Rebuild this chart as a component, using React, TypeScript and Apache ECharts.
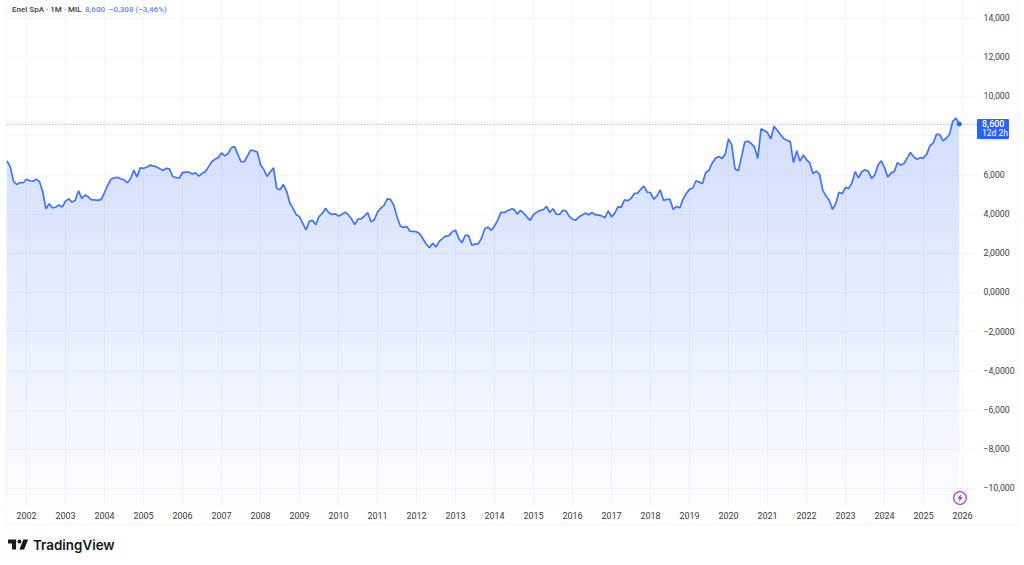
import React, { useEffect, useRef } from 'react'
import * as echarts from 'echarts'

// monthly closes, from 2001-07 to 2025-12
const closes = [
  6.72, 6.41, 5.68, 5.51, 5.61, 5.6,
  5.78, 5.7, 5.68, 5.78, 5.65, 5.14, 4.27, 4.53, 4.31, 4.36, 4.46, 4.36,
  4.66, 4.78, 4.61, 4.71, 5.19, 4.8, 4.97, 4.88, 4.73, 4.73, 4.7, 4.75,
  5.1, 5.48, 5.78, 5.85, 5.88, 5.8, 5.75, 5.6, 5.8, 6.24, 5.9, 6.36,
  6.34, 6.39, 6.5, 6.46, 6.41, 6.31, 6.24, 6.33, 6.31, 5.92, 5.87, 5.83,
  6.12, 6.14, 6.14, 6.05, 6.1, 5.94, 6.07, 6.16, 6.41, 6.67, 6.8, 6.89,
  7.12, 6.97, 7.09, 7.38, 7.45, 7.06, 6.67, 6.67, 6.97, 7.26, 7.23, 7.17,
  6.53, 6.28, 5.92, 6.16, 6.36, 5.31, 5.24, 5.51, 5.19, 4.58, 4.29, 3.97,
  3.87, 3.54, 3.19, 3.63, 3.68, 3.46, 3.87, 4.03, 4.3, 4.08, 3.98, 4.02,
  3.9, 3.98, 4.1, 3.97, 3.75, 3.47, 3.75, 3.76, 3.91, 4.07, 3.61, 3.71,
  4.1, 4.3, 4.44, 4.78, 4.75, 4.46, 3.86, 3.39, 3.32, 3.37, 3.13, 3.12,
  3.1, 3.0, 2.73, 2.47, 2.28, 2.52, 2.32, 2.61, 2.76, 2.88, 2.9, 3.1,
  3.18, 2.76, 2.54, 2.91, 2.91, 2.42, 2.47, 2.49, 2.76, 3.25, 3.34, 3.17,
  3.39, 3.69, 4.1, 4.07, 4.17, 4.25, 4.25, 4.0, 4.19, 4.05, 3.85, 3.68,
  3.98, 4.1, 4.19, 4.22, 4.39, 4.08, 4.27, 4.0, 3.98, 4.19, 4.17, 3.88,
  3.74, 3.69, 3.86, 3.95, 4.05, 3.97, 4.08, 3.97, 3.95, 3.91, 3.81, 4.17,
  3.86, 4.05, 4.37, 4.36, 4.73, 4.68, 4.8, 5.05, 5.07, 5.27, 5.43, 5.12,
  5.09, 4.76, 4.93, 5.24, 4.7, 4.75, 4.75, 4.24, 4.39, 4.32, 4.75, 5.05,
  5.26, 5.33, 5.7, 5.63, 5.56, 6.12, 6.24, 6.61, 6.85, 6.94, 6.84, 7.06,
  7.84, 7.53, 6.31, 6.21, 6.92, 7.67, 7.72, 7.6, 7.43, 6.84, 8.35, 8.26,
  8.16, 7.84, 8.48, 8.28, 8.06, 7.84, 7.77, 7.7, 6.63, 7.23, 6.7, 7.02,
  6.78, 6.61, 6.07, 6.19, 6.04, 5.22, 4.92, 4.71, 4.24, 4.54, 5.12, 5.04,
  5.36, 5.31, 5.61, 6.17, 5.85, 6.16, 6.26, 6.19, 5.82, 5.99, 6.5, 6.72,
  6.38, 5.9, 6.09, 6.17, 6.63, 6.5, 6.58, 6.87, 7.14, 6.92, 6.8, 6.87,
  6.87, 7.06, 7.5, 7.63, 8.07, 8.06, 7.74, 7.87, 8.07, 8.74, 8.89, 8.6,
]

// 8 keeps its grid line, its label sits under the last price tag
const gridTicks = [14, 12, 10, 8, 6, 4, 2, 0, -2, -4, -6, -8, -10]
const yTicks = [14, 12, 10, 6, 4, 2, 0, -2, -4, -6, -8, -10]
const yTickLabels = [
  '14,000', '12,000', '10,000', '6,000', '4,0000', '2,0000',
  '0,0000', '−2,0000', '−4,0000', '−6,000', '−8,000', '−10,000',
]
const lastPrice = 8.6

// a few empty months run on to the right of the last close
const months: string[] = []
for (let i = 0; i <= 298; i++) {
  const m = 6 + i
  months.push(`${2001 + Math.floor(m / 12)}-${String((m % 12) + 1).padStart(2, '0')}`)
}

const FONT = 'Roboto, sans-serif'
const BLUE = '#2962ff'
const GRID = '#f4f5f8'

echarts.graphic.registerShape(
  'tvLogo',
  echarts.graphic.extendPath('M14 6H2v6h6v9h6V6Zm12 15h-7l6-15h7l-6 15Zm-7-9a3 3 0 1 0 0-6 3 3 0 0 0 0 6Z', {}),
)

const App = () => {
  const chartRef = useRef<HTMLDivElement>(null)

  useEffect(() => {
    if (!chartRef.current) return
    const chart = echarts.init(chartRef.current, undefined, { renderer: 'svg' })

    const isJanuary = (index: number) => months[index].endsWith('-01')

    const graphics: any[] = [
      // pane frame
      { type: 'line', shape: { x1: 6.5, y1: 0, x2: 6.5, y2: 524.5 }, style: { stroke: GRID } },
      { type: 'line', shape: { x1: 6.5, y1: 524.5, x2: 1017.5, y2: 524.5 }, style: { stroke: GRID } },
      { type: 'line', shape: { x1: 1017.5, y1: 0, x2: 1017.5, y2: 524.5 }, style: { stroke: GRID } },
      // legend
      {
        type: 'text',
        z: 20,
        x: 12,
        y: 9,
        style: {
          text: 'Enel SpA · 1M · MIL',
          fill: '#3c3c3c',
          font: `500 8px ${FONT}`,
          verticalAlign: 'middle',
        },
      },
      {
        type: 'text',
        z: 20,
        x: 85,
        y: 9,
        style: {
          text: '8,600  −0,308 (−3,46%)',
          fill: '#5b86ff',
          font: `500 8px ${FONT}`,
          verticalAlign: 'middle',
        },
      },
      // last price tag
      {
        type: 'rect',
        z: 20,
        shape: { x: 977, y: 119, width: 32, height: 20, r: 1 },
        style: { fill: BLUE },
      },
      {
        type: 'text',
        z: 21,
        x: 982,
        y: 124,
        style: {
          text: '8,600',
          fill: '#fff',
          font: `500 9px ${FONT}`,
          verticalAlign: 'middle',
        },
      },
      {
        type: 'text',
        z: 21,
        x: 982,
        y: 133,
        style: {
          text: '12d 2h',
          fill: '#fff',
          font: `8.5px ${FONT}`,
          verticalAlign: 'middle',
        },
      },
      // dividend marker
      {
        type: 'circle',
        z: 20,
        shape: { cx: 960, cy: 498, r: 6.3 },
        style: { fill: '#fff', stroke: '#b23fd0', lineWidth: 1.2 },
      },
      {
        type: 'polygon',
        z: 21,
        shape: {
          points: [[961.5, 494], [957.5, 498.6], [959.8, 498.6], [958.6, 502], [962.6, 497.2], [960.3, 497.2]],
        },
        style: { fill: '#8e2aa8' },
      },
      // logo
      {
        type: 'tvLogo',
        x: 6.7,
        y: 535.5,
        scaleX: 0.67,
        scaleY: 0.67,
        style: { fill: '#131722' },
      },
      {
        type: 'text',
        x: 33,
        y: 545,
        style: {
          text: 'TradingView',
          fill: '#131722',
          font: `600 13.4px Inter, ${FONT}`,
          verticalAlign: 'middle',
        },
      },
    ]

    const option = {
      animation: false,
      backgroundColor: '#fff',
      grid: { left: 7, top: 0, width: 968.5, height: 506 },
      xAxis: {
        type: 'category',
        data: months,
        boundaryGap: false,
        axisLine: { show: false },
        axisTick: { show: false },
        axisLabel: {
          interval: (index: number) => isJanuary(index),
          formatter: (value: string) => value.slice(0, 4),
          color: '#3c3c3c',
          fontFamily: FONT,
          fontSize: 9,
          margin: 5,
        },
        splitLine: {
          show: true,
          interval: (index: number) => isJanuary(index),
          lineStyle: { color: GRID, width: 1 },
        },
      },
      yAxis: {
        type: 'value',
        position: 'right',
        min: -10.893,
        max: 14.923,
        axisLine: { show: false },
        axisTick: { show: false, customValues: gridTicks },
        axisLabel: {
          customValues: yTicks,
          formatter: (value: number) => yTickLabels[yTicks.indexOf(value)],
          color: '#3c3c3c',
          fontFamily: FONT,
          fontSize: 8.7,
          margin: 8,
        },
        splitLine: { show: true, lineStyle: { color: GRID, width: 1 } },
      },
      series: [
        {
          type: 'line',
          data: closes,
          showSymbol: false,
          smooth: false,
          lineStyle: { color: BLUE, width: 1.7, opacity: 0.88 },
          areaStyle: {
            origin: 'start',
            color: new echarts.graphic.LinearGradient(0, 0, 0, 1, [
              { offset: 0, color: 'rgba(41,98,255,0.3)' },
              { offset: 1, color: 'rgba(41,98,255,0.015)' },
            ]),
          },
          markPoint: {
            silent: true,
            z: 6,
            symbol: 'circle',
            symbolSize: 5,
            itemStyle: { color: BLUE },
            label: { show: false },
            data: [{ coord: [months[closes.length - 1], closes[closes.length - 1]] }],
          },
        },
      ],
      graphic: graphics,
    }

    chart.setOption(option)

    // the price line goes on once the y scale exists
    const priceY = Math.round(chart.convertToPixel({ yAxisIndex: 0 }, lastPrice)) + 0.5
    graphics.push({
      type: 'line',
      z: 3,
      shape: { x1: 7, y1: priceY, x2: 977, y2: priceY },
      style: { stroke: '#a9c1ff', lineWidth: 1, lineDash: [1.5, 1.5] },
    })
    chart.setOption({ graphic: graphics })

    return () => {
      chart.dispose()
    }
  }, [])

  return (
    <div
      ref={chartRef}
      style={{ position: 'fixed', left: 0, top: 0, width: 1024, height: 565 }}
    />
  )
}

export default App
